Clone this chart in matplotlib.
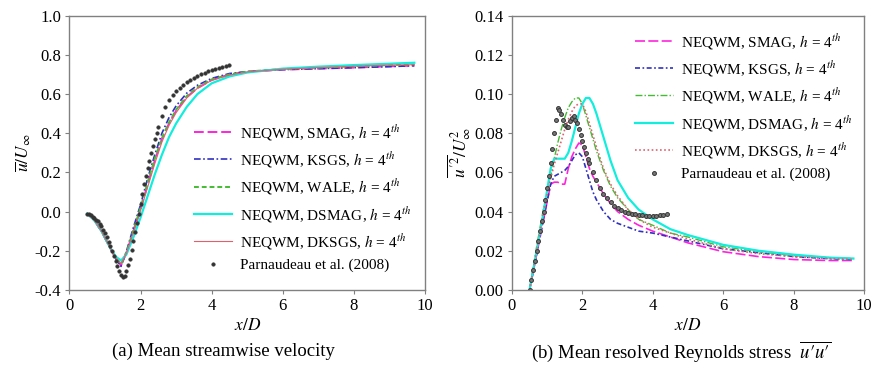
import numpy as np
import matplotlib
matplotlib.use("Agg")
import matplotlib.pyplot as plt

plt.rcParams['font.family'] = ['Liberation Serif', 'DejaVu Serif']
plt.rcParams['mathtext.fontset'] = 'stix'

labels = ["NEQWM, SMAG, $h$ = 4$^{th}$", "NEQWM, KSGS, $h$ = 4$^{th}$",
          "NEQWM, WALE, $h$ = 4$^{th}$", "NEQWM, DSMAG, $h$ = 4$^{th}$",
          "NEQWM, DKSGS, $h$ = 4$^{th}$"]
ref_label = "Parnaudeau et al. (2008)"

# ---------- (a) mean streamwise velocity ----------
xa = [0.5, 0.7, 0.9, 1.1, 1.3, 1.45, 1.6, 1.8, 2.0, 2.2, 2.4, 2.6, 2.8, 3.0,
      3.3, 3.6, 4.0, 4.5, 5.0, 6.0, 7.0, 8.0, 9.0, 9.7]
u_smag = [-0.01, -0.045, -0.1, -0.17, -0.24, -0.275, -0.21, -0.10, 0.01, 0.14, 0.26, 0.37,
          0.45, 0.515, 0.585, 0.63, 0.672, 0.70, 0.715, 0.725, 0.73, 0.735, 0.742, 0.745]
u_ksgs = [-0.01, -0.045, -0.1, -0.17, -0.24, -0.28, -0.205, -0.08, 0.035, 0.17, 0.29, 0.40,
          0.48, 0.54, 0.605, 0.645, 0.68, 0.705, 0.715, 0.725, 0.73, 0.735, 0.74, 0.745]
u_wale = [-0.01, -0.045, -0.1, -0.17, -0.235, -0.27, -0.21, -0.095, 0.02, 0.15, 0.27, 0.375,
          0.455, 0.52, 0.59, 0.635, 0.675, 0.70, 0.715, 0.728, 0.735, 0.742, 0.748, 0.752]
u_dsmag = [-0.01, -0.045, -0.1, -0.17, -0.23, -0.25, -0.22, -0.13, -0.03, 0.08, 0.19, 0.29,
           0.38, 0.45, 0.535, 0.60, 0.655, 0.69, 0.71, 0.73, 0.74, 0.748, 0.755, 0.76]
u_dksgs = [-0.01, -0.045, -0.1, -0.17, -0.235, -0.265, -0.215, -0.105, 0.005, 0.125, 0.245, 0.355,
           0.44, 0.505, 0.58, 0.63, 0.67, 0.697, 0.713, 0.727, 0.735, 0.742, 0.748, 0.75]

xa_ref = [0.5, 0.55, 0.6, 0.65, 0.7, 0.75, 0.8, 0.85, 0.9, 0.95, 1.0, 1.05, 1.1, 1.15, 1.2,
          1.25, 1.3, 1.35, 1.4, 1.45, 1.5, 1.55, 1.6, 1.65, 1.7, 1.75, 1.8, 1.85, 1.9, 1.95,
          2.0, 2.05, 2.1, 2.15, 2.2, 2.25, 2.3, 2.35, 2.4, 2.45, 2.5, 2.6, 2.7, 2.8, 2.9,
          3.0, 3.1, 3.2, 3.3, 3.4, 3.5, 3.6, 3.7, 3.8, 3.9, 4.0, 4.1, 4.2, 4.3, 4.4, 4.5]
u_ref = [-0.01, -0.015, -0.02, -0.027, -0.035, -0.042, -0.05, -0.062, -0.075, -0.092, -0.11,
         -0.132, -0.155, -0.178, -0.2, -0.228, -0.255, -0.28, -0.305, -0.325, -0.335, -0.33,
         -0.305, -0.275, -0.24, -0.195, -0.15, -0.105, -0.06, -0.01, 0.04, 0.09, 0.14, 0.18,
         0.22, 0.26, 0.30, 0.335, 0.37, 0.40, 0.43, 0.49, 0.535, 0.57, 0.595, 0.615, 0.632,
         0.648, 0.66, 0.672, 0.683, 0.693, 0.702, 0.71, 0.717, 0.724, 0.73, 0.735, 0.74,
         0.744, 0.747]

# ---------- (b) mean resolved Reynolds stress ----------
xb = [0.5, 0.7, 0.9, 1.1, 1.2, 1.3, 1.4, 1.5, 1.6, 1.7, 1.8, 1.9, 2.0, 2.1, 2.2, 2.3, 2.4,
      2.6, 2.8, 3.0, 3.3, 3.6, 4.0, 4.5, 5.0, 6.0, 7.0, 8.0, 9.0, 9.7]
r_smag = [0.0, 0.018, 0.036, 0.054, 0.055, 0.055, 0.054, 0.054, 0.062, 0.068, 0.072, 0.075,
          0.074, 0.068, 0.062, 0.058, 0.055, 0.049, 0.044, 0.040, 0.036, 0.033, 0.030, 0.027,
          0.024, 0.0195, 0.017, 0.0155, 0.015, 0.015]
r_ksgs = [0.0, 0.018, 0.037, 0.054, 0.058, 0.059, 0.060, 0.061, 0.063, 0.066, 0.069, 0.070,
          0.068, 0.062, 0.056, 0.050, 0.046, 0.040, 0.036, 0.034, 0.032, 0.030, 0.029, 0.027,
          0.025, 0.021, 0.019, 0.017, 0.016, 0.0155]
r_wale = [0.0, 0.022, 0.042, 0.058, 0.067, 0.075, 0.082, 0.088, 0.093, 0.096, 0.098, 0.098,
          0.095, 0.089, 0.083, 0.077, 0.071, 0.061, 0.053, 0.047, 0.041, 0.036, 0.033, 0.029,
          0.027, 0.022, 0.0195, 0.0175, 0.0165, 0.016]
r_dsmag = [0.0, 0.020, 0.040, 0.062, 0.067, 0.067, 0.067, 0.067, 0.070, 0.076, 0.083, 0.090,
           0.095, 0.098, 0.098, 0.095, 0.090, 0.078, 0.066, 0.056, 0.047, 0.041, 0.036, 0.031,
           0.028, 0.023, 0.020, 0.018, 0.0165, 0.016]
r_dksgs = [0.0, 0.020, 0.040, 0.057, 0.064, 0.070, 0.076, 0.082, 0.087, 0.091, 0.094, 0.095,
           0.095, 0.091, 0.085, 0.079, 0.073, 0.062, 0.054, 0.048, 0.041, 0.036, 0.032, 0.029,
           0.026, 0.021, 0.0185, 0.017, 0.016, 0.0155]

xb_ref = [0.5, 0.55, 0.6, 0.65, 0.7, 0.75, 0.8, 0.85, 0.9, 0.95, 1.0, 1.05, 1.1, 1.15, 1.2,
          1.25, 1.3, 1.35, 1.4, 1.45, 1.5, 1.55, 1.6, 1.65, 1.7, 1.75, 1.8, 1.85, 1.9, 1.95,
          2.0, 2.05, 2.1, 2.15, 2.2, 2.3, 2.4, 2.5, 2.6, 2.7, 2.8, 2.9, 3.0, 3.1, 3.2, 3.3,
          3.4, 3.5, 3.6, 3.7, 3.8, 3.9, 4.0, 4.1, 4.2, 4.3, 4.4]
r_ref = [0.0, 0.005, 0.010, 0.015, 0.020, 0.025, 0.030, 0.035, 0.040, 0.046, 0.052, 0.058,
         0.065, 0.072, 0.080, 0.087, 0.093, 0.092, 0.090, 0.087, 0.084, 0.083, 0.083, 0.086,
         0.088, 0.089, 0.087, 0.085, 0.082, 0.079, 0.076, 0.073, 0.070, 0.067, 0.065, 0.060,
         0.056, 0.052, 0.049, 0.047, 0.045, 0.043, 0.042, 0.041, 0.040, 0.0395, 0.039,
         0.0385, 0.038, 0.038, 0.0375, 0.0375, 0.0375, 0.0375, 0.038, 0.038, 0.039]

colors = ['#ff22dd', '#3030c0', '#44bb33', '#11eedd', '#e06070']
styles_a = [(0, (5, 2)), (0, (4, 1.5, 1, 1.5)), (0, (2.5, 1.5)), '-', '-']
widths_a = [1.4, 1.2, 1.4, 1.6, 0.8]
styles_b = [(0, (6, 2)), (0, (3, 1.5, 1, 1.5)), (0, (5, 1.5, 1, 1.5)), '-', (0, (1, 1.5))]
widths_b = [1.2, 1.2, 1.0, 1.6, 1.2]

fig = plt.figure(figsize=(8.75, 3.75), dpi=100)
ax1 = fig.add_axes([0.0794, 0.227, 0.4063, 0.731])
ax2 = fig.add_axes([0.5851, 0.227, 0.4023, 0.731])

for i, ys in enumerate([u_smag, u_ksgs, u_wale, u_dsmag, u_dksgs]):
    ax1.plot(xa, ys, color=colors[i], ls=styles_a[i], lw=widths_a[i], label=labels[i])
ax1.plot(xa_ref, u_ref, ls='none', marker='o', ms=2.6, color='#333333',
         markeredgewidth=0.3, label=ref_label)

for i, ys in enumerate([r_smag, r_ksgs, r_wale, r_dsmag, r_dksgs]):
    ax2.plot(xb, ys, color=colors[i], ls=styles_b[i], lw=widths_b[i], label=labels[i])
ax2.plot(xb_ref, r_ref, ls='none', marker='o', ms=2.8, color='#777777',
         markeredgecolor='#333333', markeredgewidth=0.7, label=ref_label)

for ax in (ax1, ax2):
    ax.set_xlim(0, 10)
    ax.set_xticks([0, 2, 4, 6, 8, 10])
    for s in ax.spines.values():
        s.set_color('#808080')
        s.set_linewidth(1.0)
    ax.tick_params(direction='out', length=3, width=0.8, color='#808080',
                   labelsize=12, pad=3)
    ax.set_xlabel('$x/D$', fontsize=12.5, labelpad=3)

ax1.set_ylim(-0.4, 1.0)
ax1.set_yticks(np.round(np.arange(-0.4, 1.01, 0.2), 1))
ax1.set_yticklabels([f'{v:.1f}' for v in np.arange(-0.4, 1.01, 0.2)])
ax1.set_ylabel(r'$\overline{u}/U_\infty$', fontsize=12.5, labelpad=1)

ax2.set_ylim(0, 0.14)
ax2.set_yticks(np.round(np.arange(0, 0.141, 0.02), 2))
ax2.set_yticklabels([f'{v:.2f}' for v in np.arange(0, 0.141, 0.02)])
ax2.set_ylabel(r"$\overline{u'^2}/U_\infty^2$", fontsize=12.5, labelpad=1)

leg_kw = dict(frameon=False, fontsize=11, handlelength=2.5, handletextpad=0.5,
              labelspacing=0.48, borderpad=0.2)
ax1.legend(loc='lower left', bbox_to_anchor=(0.32, 0.025), **leg_kw)
ax2.legend(loc='upper left', bbox_to_anchor=(0.32, 0.985), **leg_kw)

fig.text(0.255, 0.063, '(a) Mean streamwise velocity', ha='center', va='center', fontsize=13.5)
fig.text(0.778, 0.063, "(b) Mean resolved Reynolds stress  $\\overline{u\u2032u\u2032}$",
         ha='center', va='center', fontsize=13.5)

fig.savefig('out.png', dpi=100)
